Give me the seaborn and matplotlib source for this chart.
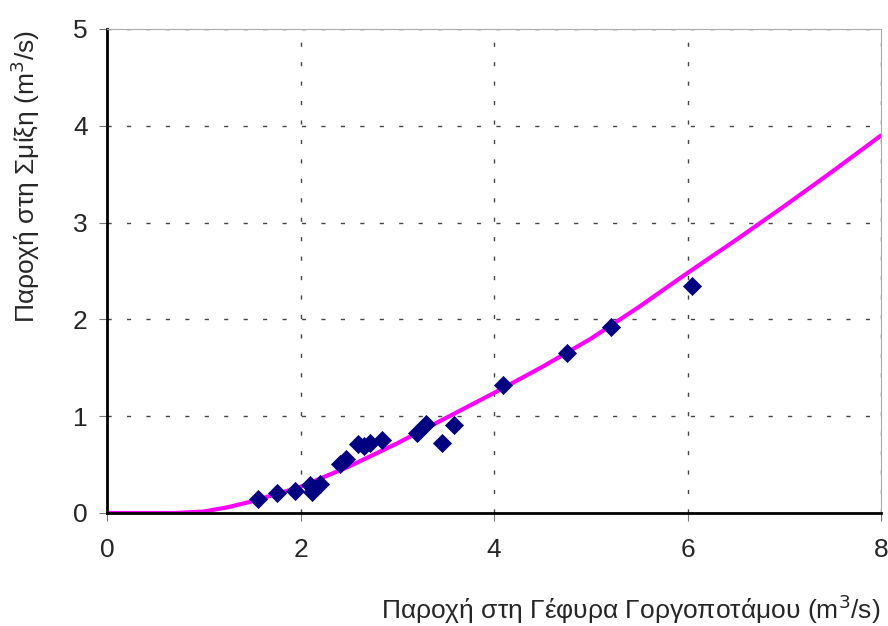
import matplotlib
matplotlib.use("Agg")
import matplotlib.pyplot as plt
import seaborn as sns
import pandas as pd

# Μετρήσεις (Γέφυρα Γοργοποτάμου -> Σμίξη), m3/s
q_gefyra = [1.56, 1.76, 1.94, 2.10, 2.12, 2.20, 2.41, 2.47, 2.59, 2.66, 2.72, 2.84,
            3.20, 3.30, 3.46, 3.59, 4.09, 4.75, 5.21, 6.05]
q_smixi = [0.145, 0.21, 0.23, 0.29, 0.22, 0.30, 0.51, 0.56, 0.71, 0.69, 0.72, 0.75,
           0.83, 0.92, 0.72, 0.91, 1.32, 1.65, 1.92, 2.35]

# Καμπύλη συσχέτισης
curve_x = [0, 0.7, 1.0, 1.25, 1.5, 2.0, 2.5, 3.0, 3.5, 4.0, 4.5, 5.0, 5.5, 6.0, 6.5, 7.0, 7.5, 8.0]
curve_y = [0, 0, 0.015, 0.06, 0.12, 0.27, 0.48, 0.72, 0.98, 1.24, 1.51, 1.80, 2.13, 2.48,
           2.82, 3.17, 3.53, 3.90]

pts = pd.DataFrame({"x": q_gefyra, "y": q_smixi})
crv = pd.DataFrame({"x": curve_x, "y": curve_y})

sns.set_style("white")
plt.rcParams["font.family"] = ["Liberation Sans", "DejaVu Sans"]

fig = plt.figure(figsize=(8.88, 6.26), dpi=100)
ax = fig.add_axes([107 / 888, 1 - 513 / 626, 774 / 888, 484 / 626])

sns.lineplot(data=crv, x="x", y="y", ax=ax, color="#FF00FF", linewidth=3, zorder=2)
sns.scatterplot(data=pts, x="x", y="y", ax=ax, marker="D", s=85, color="#000080",
                edgecolor="#000080", linewidth=0.5, zorder=3)

ax.set_xlim(0, 8)
ax.set_ylim(0, 5)
ax.set_xticks([0, 2, 4, 6, 8])
ax.set_yticks([0, 1, 2, 3, 4, 5])
ax.grid(True, linestyle=(0, (3, 11)), color="#444444", linewidth=1)
ax.set_axisbelow(True)
ax.spines[["top", "right"]].set_color("#aaaaaa")
ax.spines[["top", "right"]].set_linewidth(0.8)
ax.spines[["left", "bottom"]].set_color("black")
ax.spines[["left", "bottom"]].set_linewidth(2)
ax.tick_params(axis="both", direction="out", length=6, color="#777777", labelsize=19,
               bottom=True, left=True)
ax.tick_params(axis="x", pad=12)
ax.tick_params(axis="y", pad=8)

ax.set_xlabel("")
ax.set_ylabel("")
fig.text(25 / 888, 1 - 323 / 626, "Παροχή στη Σμίξη (m$^3$/s)",
         rotation=90, ha="center", va="bottom", fontsize=19)
fig.text(880 / 888, 1 - 609 / 626, "Παροχή στη Γέφυρα Γοργοποτάμου (m$^3$/s)",
         ha="right", va="center", fontsize=19)

fig.savefig("out.png", dpi=100)
